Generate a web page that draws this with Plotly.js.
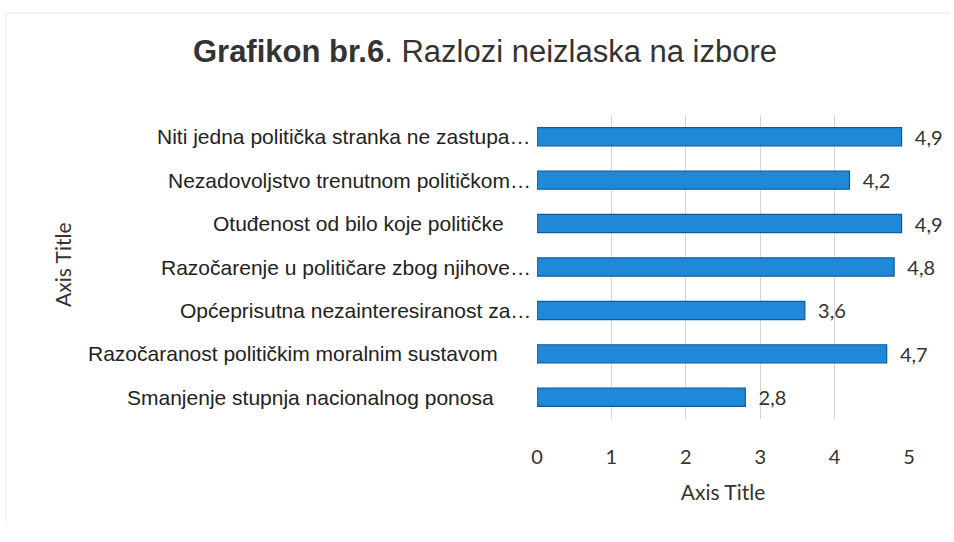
<!DOCTYPE html>
<html>
<head>
<meta charset="utf-8">
<script src="https://cdn.plot.ly/plotly-3.0.1.min.js"></script>
<style>html,body{margin:0;padding:0;background:#fff;}#chart{width:954px;height:542px;}</style>
</head>
<body>
<div id="chart"></div>
<script>
// Data (top to bottom as shown)
const categories = [
  "Niti jedna politička stranka ne zastupa…",
  "Nezadovoljstvo trenutnom političkom…",
  "Otuđenost od bilo koje političke",
  "Razočarenje u političare zbog njihove…",
  "Općeprisutna nezainteresiranost za…",
  "Razočaranost političkim moralnim sustavom",
  "Smanjenje stupnja nacionalnog ponosa"
];
const values = [4.9, 4.2, 4.9, 4.8, 3.6, 4.7, 2.8];
const xTicks = [0, 1, 2, 3, 4, 5];

// label right-edge indent (px from plot's left edge), as laid out in the reference
const labelIndent = [4, 4, 31, 4, 4, 37, 41];

const W = 954, H = 542;
const M = {l: 537, r: 45, t: 115, b: 123};
const PW = W - M.l - M.r, PH = H - M.t - M.b;

const trace = {
  type: 'bar',
  orientation: 'h',
  y: categories,
  x: values,
  marker: {color: '#1f88d8', line: {color: '#0e5a9c', width: 1.2}},
  text: values.map(v => v.toFixed(1).replace('.', ',')),
  texttemplate: '  %{text}',
  textposition: 'outside',
  constraintext: 'none',
  textfont: {family: 'Lato, Carlito, sans-serif', size: 20, color: '#333'},
  cliponaxis: false,
  hoverinfo: 'skip'
};

const annotations = categories.map((c, i) => ({
  xref: 'paper', yref: 'y', x: -labelIndent[i] / PW, y: c,
  xanchor: 'right', yanchor: 'middle', showarrow: false,
  text: c,
  font: {family: 'Liberation Sans, Arial, sans-serif', size: 21, color: '#222'}
}));
annotations.push({
  xref: 'paper', yref: 'paper', x: (62 - M.l) / PW, y: 1 - (265 - M.t) / PH,
  xanchor: 'center', yanchor: 'middle', showarrow: false, textangle: -90,
  text: 'Axis Title',
  font: {family: 'Lato, Carlito, sans-serif', size: 21, color: '#333'}
});

const layout = {
  width: W, height: H,
  paper_bgcolor: '#fff', plot_bgcolor: '#fff',
  margin: M,
  separators: ',.',
  showlegend: false,
  bargap: 0.58,
  title: {
    text: '<b>Grafikon br.6</b>. Razlozi neizlaska na izbore',
    font: {family: 'Liberation Sans, Arial, sans-serif', size: 31, color: '#333'},
    x: 485 / W, xanchor: 'center', xref: 'container',
    y: 1 - 51 / H, yanchor: 'middle', yref: 'container'
  },
  xaxis: {
    range: [0, 5],
    tickvals: xTicks,
    ticktext: xTicks.map(String),
    showgrid: true, gridcolor: '#d4d4d4', gridwidth: 1,
    zeroline: false, showline: false,
    ticks: '',
    ticklabelstandoff: 24,
    tickfont: {family: 'Lato, Carlito, sans-serif', size: 20, color: '#333'},
    title: {text: 'Axis Title', font: {family: 'Lato, Carlito, sans-serif', size: 21, color: '#333'}, standoff: 18},
    fixedrange: true
  },
  yaxis: {
    autorange: 'reversed',
    type: 'category',
    showgrid: false, zeroline: false, showline: false,
    showticklabels: false,
    ticks: '',
    fixedrange: true
  },
  annotations: annotations,
  shapes: [
    {type: 'line', xref: 'paper', yref: 'paper', x0: (6 - M.l) / PW, x1: (950 - M.l) / PW,
     y0: 1 + (M.t - 13) / PH, y1: 1 + (M.t - 13) / PH, line: {color: '#e6e6e6', width: 1}},
    {type: 'line', xref: 'paper', yref: 'paper', x0: (6 - M.l) / PW, x1: (6 - M.l) / PW,
     y0: 1 + (M.t - 13) / PH, y1: -(M.b - 20) / PH, line: {color: '#eeeeee', width: 1}}
  ]
};

Plotly.newPlot('chart', [trace], layout, {displayModeBar: false, staticPlot: true});
</script>
</body>
</html>
